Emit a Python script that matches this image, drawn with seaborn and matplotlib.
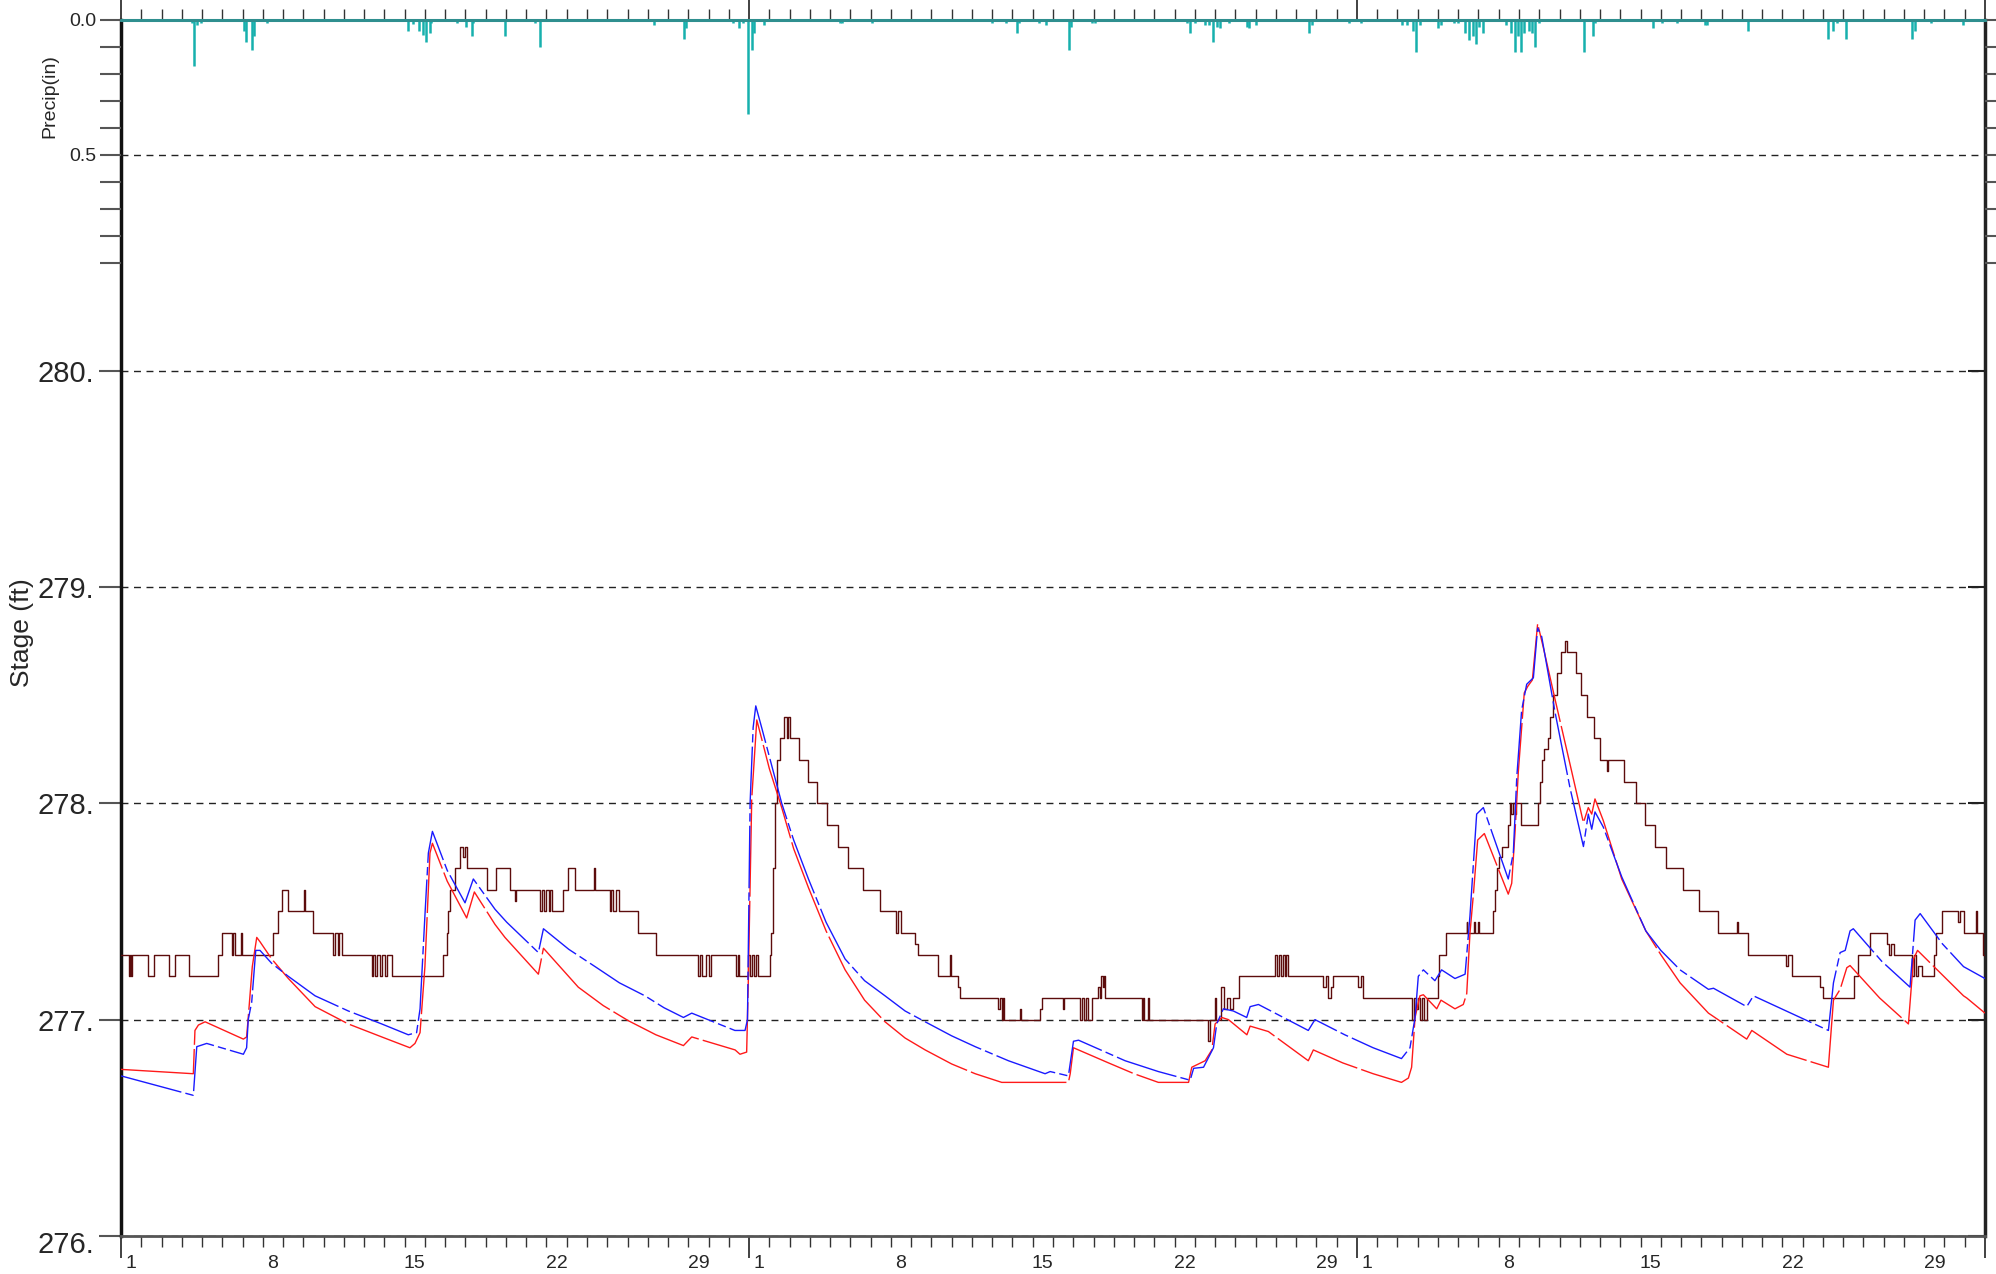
import numpy as np
import pandas as pd
import seaborn as sns
import matplotlib.pyplot as plt
from matplotlib.ticker import FixedLocator, NullFormatter
from matplotlib.transforms import ScaledTranslation

sns.set_theme(style="ticks")
plt.rcParams['font.family'] = ['Liberation Sans', 'DejaVu Sans']

# time axis: days since start of first month
month_lengths = [31, 30, 31]
day_labels = [1, 8, 15, 22, 29]

# observed stage (ft): (day, level) at each step change
observed = [
    (0.0, 277.3), (0.40, 277.2), (0.45, 277.3), (0.50, 277.2), (0.55, 277.3), (1.35, 277.2),
    (1.65, 277.3), (2.37, 277.2), (2.67, 277.3), (3.36, 277.2), (4.77, 277.3), (4.97, 277.4),
    (5.46, 277.3), (5.55, 277.4), (5.62, 277.3), (5.90, 277.4), (5.95, 277.3), (7.52, 277.4),
    (7.73, 277.5), (7.93, 277.6), (8.23, 277.5), (9.02, 277.6), (9.08, 277.5), (9.49, 277.4),
    (10.48, 277.3), (10.55, 277.4), (10.7, 277.3), (10.75, 277.4), (10.89, 277.3),
    (12.37, 277.2), (12.45, 277.3), (12.55, 277.2), (12.65, 277.3), (12.8, 277.2),
    (12.9, 277.3), (13.05, 277.2), (13.15, 277.3), (13.36, 277.2), (15.91, 277.3),
    (16.1, 277.4), (16.15, 277.5), (16.25, 277.6), (16.5, 277.7), (16.75, 277.8),
    (16.9, 277.75), (17.0, 277.8), (17.1, 277.7), (18.05, 277.6), (18.5, 277.7),
    (19.18, 277.6), (19.45, 277.55), (19.5, 277.6), (20.7, 277.5), (20.8, 277.6),
    (20.9, 277.5), (21.0, 277.6), (21.1, 277.5), (21.15, 277.6), (21.26, 277.5),
    (21.83, 277.6), (22.05, 277.7), (22.41, 277.6), (23.33, 277.7), (23.38, 277.6),
    (24.13, 277.5), (24.2, 277.6), (24.3, 277.5), (24.45, 277.6), (24.6, 277.5),
    (25.5, 277.4), (26.41, 277.3), (28.5, 277.2), (28.6, 277.3), (28.7, 277.2),
    (28.85, 277.3), (29.0, 277.2), (29.12, 277.3), (30.34, 277.2), (30.45, 277.3),
    (30.5, 277.2), (30.97, 277.3), (31.05, 277.2), (31.15, 277.3), (31.25, 277.2),
    (31.35, 277.3), (31.45, 277.2), (32.03, 277.3), (32.1, 277.4), (32.2, 277.7),
    (32.3, 278.0), (32.4, 278.2), (32.53, 278.3), (32.74, 278.4), (32.85, 278.3),
    (32.9, 278.4), (33.02, 278.3), (33.47, 278.2), (33.93, 278.1), (34.34, 278.0),
    (34.86, 277.9), (35.37, 277.8), (35.9, 277.7), (36.64, 277.6), (37.44, 277.5),
    (38.26, 277.4), (38.35, 277.5), (38.5, 277.4), (39.2, 277.35), (39.36, 277.3),
    (40.31, 277.2), (40.9, 277.3), (40.95, 277.2), (41.33, 277.15), (41.4, 277.1),
    (43.31, 277.05), (43.4, 277.1), (43.5, 277.0), (43.55, 277.1), (43.6, 277.0),
    (44.38, 277.05), (44.43, 277.0), (45.36, 277.05), (45.45, 277.1), (46.47, 277.05),
    (46.52, 277.1), (47.34, 277.0), (47.45, 277.1), (47.55, 277.0), (47.65, 277.1),
    (47.75, 277.0), (47.91, 277.1), (48.21, 277.15), (48.3, 277.1), (48.35, 277.2),
    (48.45, 277.15), (48.5, 277.2), (48.57, 277.1), (50.38, 277.0), (50.45, 277.1),
    (50.5, 277.0), (50.71, 277.1), (50.75, 277.0), (53.67, 276.9), (53.75, 277.0),
    (54.0, 277.1), (54.05, 277.0), (54.3, 277.15), (54.45, 277.05), (54.6, 277.1),
    (54.75, 277.05), (54.9, 277.1), (55.19, 277.2), (56.96, 277.3), (57.05, 277.2),
    (57.15, 277.3), (57.25, 277.2), (57.35, 277.3), (57.45, 277.2), (57.5, 277.3),
    (57.62, 277.2), (59.34, 277.15), (59.45, 277.2), (59.55, 277.1), (59.7, 277.15),
    (59.84, 277.2), (61.07, 277.15), (61.2, 277.2), (61.3, 277.1), (63.7, 277.0),
    (63.8, 277.1), (63.9, 277.05), (64.0, 277.1), (64.1, 277.0), (64.2, 277.1),
    (64.3, 277.0), (64.44, 277.1), (64.99, 277.2), (65.07, 277.3), (65.38, 277.4),
    (66.42, 277.45), (66.45, 277.4), (66.8, 277.45), (66.85, 277.4), (67.0, 277.45),
    (67.05, 277.4), (67.73, 277.5), (67.8, 277.6), (67.9, 277.7), (68.0, 277.75),
    (68.18, 277.8), (68.47, 277.9), (68.56, 278.0), (68.62, 277.95), (68.72, 278.0),
    (68.78, 277.95), (68.85, 278.0), (69.1, 277.9), (69.92, 278.0), (70.04, 278.1),
    (70.12, 278.2), (70.25, 278.25), (70.41, 278.3), (70.53, 278.4), (70.7, 278.5),
    (70.86, 278.6), (71.07, 278.7), (71.27, 278.75), (71.35, 278.7), (71.8, 278.6),
    (72.06, 278.5), (72.34, 278.4), (72.7, 278.3), (72.99, 278.2), (73.33, 278.15),
    (73.38, 278.2), (74.19, 278.1), (74.75, 278.0), (75.22, 277.9), (75.72, 277.8),
    (76.26, 277.7), (77.08, 277.6), (77.9, 277.5), (78.8, 277.4), (79.75, 277.45),
    (79.8, 277.4), (80.29, 277.3), (82.2, 277.25), (82.3, 277.3), (82.46, 277.2),
    (83.86, 277.15), (84.0, 277.1), (85.51, 277.2), (85.75, 277.3), (86.33, 277.4),
    (87.15, 277.35), (87.25, 277.3), (87.35, 277.35), (87.51, 277.3), (88.39, 277.2),
    (88.5, 277.3), (88.6, 277.2), (88.7, 277.25), (88.88, 277.2), (89.46, 277.3),
    (89.6, 277.4), (89.87, 277.5), (90.69, 277.45), (90.75, 277.5), (90.94, 277.4),
    (91.56, 277.5), (91.62, 277.4), (91.92, 277.3), (92.0, 277.3),
]

# simulated stage, run A (red)
sim_red = [
    (0.0, 276.77), (3.57, 276.75), (3.65, 276.95), (3.82, 276.975), (4.15, 276.99),
    (6.04, 276.91), (6.2, 276.92), (6.28, 277.01), (6.48, 277.245), (6.7, 277.38),
    (6.86, 277.36), (7.44, 277.28), (8.26, 277.19), (9.58, 277.06), (11.22, 276.98),
    (12.87, 276.92), (14.26, 276.87), (14.51, 276.89), (14.76, 276.94), (15.0, 277.245),
    (15.25, 277.77), (15.37, 277.815), (16.1, 277.64), (17.06, 277.47), (17.44, 277.59),
    (18.46, 277.44), (18.95, 277.38), (20.6, 277.21), (20.85, 277.33), (22.57, 277.15),
    (23.8, 277.065), (25.04, 276.995), (26.4, 276.93), (27.76, 276.88), (28.17, 276.92),
    (30.31, 276.86), (30.55, 276.84), (30.88, 276.85), (30.96, 277.17), (31.13, 278.02),
    (31.38, 278.385), (32.0, 278.16), (32.61, 277.98), (33.2, 277.79), (33.93, 277.61),
    (34.8, 277.41), (35.74, 277.23), (36.7, 277.09), (37.71, 276.99), (38.7, 276.915),
    (39.69, 276.86), (41.0, 276.795), (42.16, 276.75), (43.47, 276.71), (45.78, 276.71),
    (46.76, 276.71), (46.85, 276.75), (47.01, 276.87), (48.74, 276.8), (50.0, 276.75),
    (51.2, 276.71), (52.69, 276.71), (52.85, 276.78), (53.51, 276.81), (53.84, 276.86),
    (54.0, 276.98), (54.33, 277.01), (54.66, 277.0), (55.57, 276.93), (55.73, 276.97),
    (56.63, 276.945), (58.6, 276.81), (58.85, 276.86), (60.3, 276.8), (61.8, 276.75),
    (63.2, 276.71), (63.54, 276.73), (63.7, 276.78), (63.87, 277.01), (64.11, 277.11),
    (64.28, 277.115), (64.94, 277.05), (65.15, 277.09), (65.84, 277.05), (66.25, 277.07),
    (66.42, 277.12), (66.58, 277.4), (66.75, 277.58), (66.96, 277.83), (67.29, 277.86),
    (68.47, 277.58), (68.64, 277.63), (68.8, 277.86), (68.97, 278.15), (69.26, 278.51),
    (69.43, 278.54), (69.66, 278.57), (69.92, 278.83), (70.2, 278.72), (70.78, 278.48),
    (71.52, 278.18), (72.18, 277.91), (72.42, 277.98), (72.59, 277.95), (72.75, 278.02),
    (73.16, 277.92), (74.07, 277.65), (75.26, 277.41), (76.0, 277.3), (76.95, 277.17),
    (78.35, 277.03), (78.51, 277.02), (80.24, 276.91), (80.49, 276.95), (82.22, 276.84),
    (84.27, 276.78), (84.52, 277.09), (84.85, 277.14), (85.18, 277.24), (85.34, 277.25),
    (86.8, 277.1), (88.22, 276.98), (88.47, 277.28), (88.67, 277.32), (90.94, 277.11),
    (91.1, 277.1), (92.0, 277.03),
]

# simulated stage, run B (blue)
sim_blue = [
    (0.0, 276.74), (3.57, 276.65), (3.74, 276.875), (4.23, 276.89), (6.04, 276.84),
    (6.2, 276.87), (6.28, 277.0), (6.45, 277.08), (6.65, 277.32), (6.86, 277.32),
    (7.44, 277.26), (8.26, 277.2), (9.58, 277.11), (11.22, 277.04), (12.87, 276.98),
    (14.18, 276.93), (14.59, 276.94), (14.76, 277.05), (15.0, 277.48), (15.17, 277.77),
    (15.37, 277.87), (16.1, 277.69), (16.98, 277.54), (17.39, 277.65), (18.46, 277.51),
    (19.04, 277.45), (20.6, 277.31), (20.85, 277.42), (22.1, 277.325), (23.4, 277.245),
    (24.6, 277.17), (25.86, 277.11), (26.8, 277.055), (27.76, 277.01), (28.17, 277.03),
    (30.3, 276.95), (30.8, 276.95), (30.92, 277.0), (31.05, 278.0), (31.2, 278.35),
    (31.33, 278.45), (31.62, 278.35), (32.61, 278.0), (33.2, 277.83), (33.93, 277.65),
    (34.8, 277.45), (35.74, 277.28), (36.7, 277.18), (37.71, 277.11), (38.7, 277.04),
    (39.69, 276.99), (41.0, 276.925), (42.16, 276.875), (43.8, 276.81), (45.61, 276.75),
    (45.86, 276.76), (46.76, 276.74), (47.01, 276.9), (47.26, 276.905), (49.56, 276.81),
    (51.2, 276.76), (52.77, 276.72), (52.94, 276.775), (53.43, 276.78), (53.92, 276.87),
    (54.08, 276.98), (54.41, 277.05), (54.9, 277.04), (55.56, 277.01), (55.73, 277.06),
    (56.14, 277.07), (58.6, 276.95), (58.93, 277.0), (60.4, 276.93), (61.8, 276.87),
    (63.2, 276.82), (63.62, 276.87), (63.87, 277.01), (64.03, 277.2), (64.28, 277.23),
    (64.85, 277.18), (65.18, 277.23), (65.84, 277.19), (66.34, 277.21), (66.58, 277.48),
    (66.91, 277.95), (67.24, 277.98), (68.47, 277.65), (68.72, 277.77), (68.89, 278.12),
    (69.13, 278.43), (69.38, 278.55), (69.71, 278.58), (69.92, 278.81), (70.12, 278.77),
    (70.78, 278.42), (71.52, 278.07), (72.18, 277.8), (72.42, 277.95), (72.59, 277.88),
    (72.75, 277.96), (73.16, 277.89), (74.07, 277.66), (75.26, 277.41), (76.0, 277.32),
    (76.95, 277.23), (78.35, 277.14), (78.6, 277.145), (80.24, 277.06), (80.57, 277.11),
    (84.27, 276.95), (84.52, 277.17), (84.85, 277.31), (85.1, 277.32), (85.34, 277.41),
    (85.5, 277.42), (86.9, 277.27), (88.3, 277.15), (88.55, 277.46), (88.8, 277.49),
    (89.9, 277.35), (90.94, 277.245), (92.0, 277.19),
]

# precipitation (in)
precip = [
    (3.5, 0.01), (3.59, 0.17), (3.75, 0.02), (3.95, 0.01), (6.06, 0.04), (6.19, 0.08),
    (6.46, 0.11), (6.54, 0.06), (7.23, 0.01), (14.17, 0.04), (14.4, 0.015), (14.72, 0.04),
    (14.9, 0.055), (15.05, 0.08), (15.23, 0.05), (15.32, 0.01), (16.6, 0.01), (17.03, 0.025),
    (17.3, 0.06), (17.37, 0.01), (18.97, 0.06), (20.45, 0.01), (20.67, 0.10), (26.33, 0.02),
    (27.77, 0.07), (27.88, 0.03), (30.2, 0.01), (30.52, 0.03), (30.7, 0.01), (30.96, 0.35),
    (31.13, 0.11), (31.25, 0.05), (31.73, 0.02), (35.5, 0.01), (35.6, 0.01), (37.06, 0.01),
    (43.01, 0.01), (43.67, 0.01), (44.22, 0.05), (44.33, 0.01), (45.33, 0.01), (45.66, 0.02),
    (46.78, 0.11), (46.87, 0.025), (47.93, 0.01), (48.08, 0.01), (52.6, 0.01), (52.75, 0.05),
    (53.0, 0.01), (53.5, 0.02), (53.7, 0.02), (53.92, 0.08), (54.1, 0.025), (54.25, 0.03),
    (54.69, 0.01), (55.57, 0.025), (55.68, 0.03), (56.02, 0.02), (58.63, 0.05), (58.8, 0.02),
    (60.6, 0.01), (61.2, 0.01), (63.25, 0.02), (63.45, 0.02), (63.78, 0.04), (63.93, 0.12),
    (64.1, 0.02), (64.98, 0.03), (65.15, 0.02), (65.8, 0.01), (66.0, 0.01), (66.34, 0.05),
    (66.51, 0.075), (66.73, 0.06), (66.89, 0.09), (67.05, 0.025), (67.2, 0.05), (68.38, 0.02),
    (68.6, 0.05), (68.81, 0.12), (68.97, 0.06), (69.1, 0.12), (69.25, 0.05), (69.47, 0.04),
    (69.62, 0.05), (69.8, 0.10), (69.98, 0.01), (72.2, 0.12), (72.65, 0.06), (72.77, 0.01),
    (75.6, 0.03), (76.05, 0.01), (76.8, 0.01), (78.2, 0.02), (78.27, 0.02), (80.3, 0.04),
    (84.26, 0.07), (84.48, 0.04), (84.7, 0.01), (85.13, 0.07), (88.38, 0.07), (88.53, 0.04),
    (89.34, 0.01), (90.9, 0.02),
]

stage_ticks = [276, 277, 278, 279, 280]
stage_labels = ['276.', '277.', '278.', '279.', '280.']
precip_major = [0.0, 0.5]
precip_labels = ['0.0', '0.5']
precip_minor = [0.1, 0.2, 0.3, 0.4, 0.6, 0.7, 0.8, 0.9]

obs_df = pd.DataFrame(observed, columns=['day', 'stage'])
red_df = pd.DataFrame(sim_red, columns=['day', 'stage'])
blue_df = pd.DataFrame(sim_blue, columns=['day', 'stage'])
rain_df = pd.DataFrame(precip, columns=['day', 'inches'])

month_starts = [int(v) for v in np.cumsum([0] + month_lengths)]
n_days = month_starts[-1]

W, H = 1996, 1274
fig = plt.figure(figsize=(W / 100, H / 100), dpi=100)
fig.patch.set_facecolor('white')
ax = fig.add_axes([121 / W, 1 - 1236 / H, (1985 - 121) / W, (1236 - 20) / H])
ax.set_facecolor('white')

grid_kw = dict(linestyle=(0, (5, 4)), color='#222222', linewidth=1.0)

sns.lineplot(data=obs_df, x='day', y='stage', ax=ax, color='#5c0c0c', linewidth=1.0,
             drawstyle='steps-post', estimator=None, sort=False, zorder=3)
sns.lineplot(data=red_df, x='day', y='stage', ax=ax, color='#ff1a1a', linewidth=1.0,
             linestyle=(0, (70, 3)), estimator=None, sort=False, zorder=4)
sns.lineplot(data=blue_df, x='day', y='stage', ax=ax, color='#1a1aff', linewidth=1.0,
             linestyle=(0, (45, 3, 6, 3)), estimator=None, sort=False, zorder=5)

ax.set_xlim(0, n_days)
ax.set_ylim(276, 281.62)
ax.set_xlabel('')
ax.set_ylabel('')

ax.xaxis.set_major_locator(FixedLocator(month_starts))
ax.xaxis.set_minor_locator(FixedLocator(list(range(n_days + 1))))
ax.xaxis.set_major_formatter(NullFormatter())
ax.tick_params(axis='x', which='major', length=16, width=1.3, color='#333333',
               direction='out', top=True, bottom=True)
ax.tick_params(axis='x', which='minor', length=8, width=1.0, color='#333333',
               direction='out', top=True, bottom=True)

ax.set_yticks(stage_ticks)
ax.set_yticklabels(stage_labels, fontsize=21)
ax.tick_params(axis='y', length=16, width=1.5, color='#555555', direction='out',
               left=True, right=False, pad=3)
ax.yaxis.grid(True, **grid_kw)
ax.xaxis.grid(False)
# bottom label sits a little below its tick
lab0 = ax.get_yticklabels()[0]
lab0.set_transform(lab0.get_transform() + ScaledTranslation(0, -0.06, fig.dpi_scale_trans))

sec = ax.secondary_yaxis('right')
sec.set_yticks(stage_ticks)
sec.tick_params(axis='y', direction='in', length=12, width=1.5, color='#222222',
                labelright=False)
sec.spines['right'].set_visible(False)

for side, lw, col in [('left', 2.5, '#111111'), ('right', 2.5, '#222222'),
                      ('bottom', 2.0, '#555555'), ('top', 2.0, '#2f8f8f')]:
    ax.spines[side].set_linewidth(lw)
    ax.spines[side].set_color(col)

# day labels centred on the labelled day
for start in month_starts[:-1]:
    for d in day_labels:
        ax.annotate(str(d), xy=(start + d - 0.5, 0), xycoords=('data', 'axes fraction'),
                    xytext=(0, -28), textcoords='offset pixels', ha='center', va='center',
                    fontsize=14)

# precipitation on an inverted twin axis
pax = ax.twinx()
pax.vlines(rain_df['day'], 0, rain_df['inches'], color='#17b0ad', linewidth=1.8, zorder=3)
pax.axhline(0, color='#2f8f8f', linewidth=2.2, clip_on=False, zorder=6)
pax.set_ylim(4.504, 0)
pax.yaxis.set_major_locator(FixedLocator(precip_major))
pax.yaxis.set_minor_locator(FixedLocator(precip_minor))
pax.set_yticklabels(precip_labels, fontsize=14)
pax.tick_params(axis='y', which='both', left=True, right=True, labelleft=True,
                labelright=False, direction='out', length=15, width=1.5, color='#555555', pad=3)
pax.yaxis.grid(True, which='major', **grid_kw)
for s in pax.spines.values():
    s.set_visible(False)

fig.text(22 / W, 1 - 633 / H, 'Stage (ft)', rotation=90, ha='center', va='center', fontsize=19)
fig.text(50 / W, 1 - 96 / H, 'Precip(in)', rotation=90, ha='center', va='center', fontsize=14)

fig.savefig('out.png', dpi=100, facecolor='white')
